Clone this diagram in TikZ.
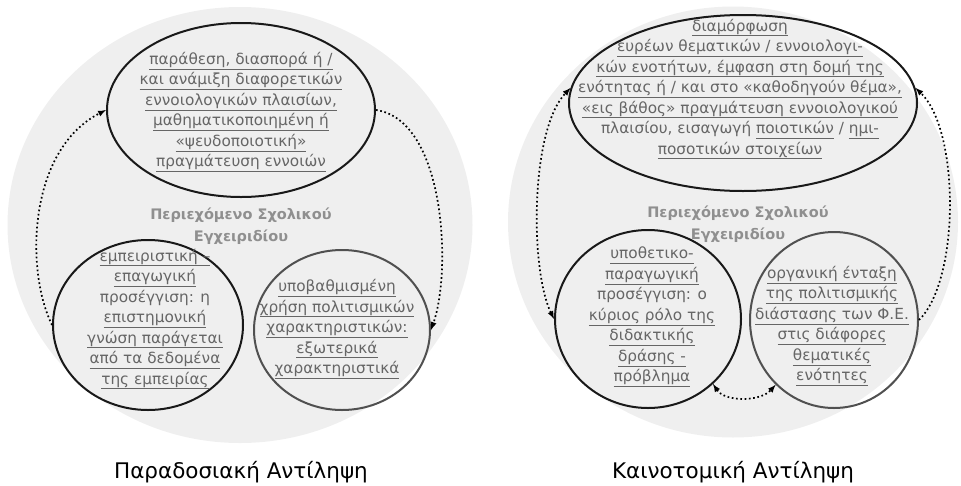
\documentclass[tikz,border=0pt]{standalone}
\usepackage{fontspec}
\setmainfont{DejaVu Sans}
\usetikzlibrary{shapes.geometric}

\definecolor{fond}{HTML}{EFEFEF}
\definecolor{texte}{HTML}{666666}
\definecolor{titre}{HTML}{8F8F8F}
\definecolor{trait}{HTML}{505050}

\newcommand{\souligne}[1]{\underline{#1\vphantom{ρ}}}

\begin{document}
\begin{tikzpicture}[x=1pt, y=-1pt]

	\useasboundingbox (0,0) rectangle (961,485);

	\tikzset{
		zone/.style={ellipse, fill=fond, inner sep=0pt},
		bulle/.style={ellipse, draw=black!90, line width=2pt, inner sep=0pt},
		bulleg/.style={ellipse, draw=trait, line width=2pt, inner sep=0pt},
		txt/.style={align=center, text=texte, font=\fontsize{15.3}{20.5}\selectfont},
		ttl/.style={align=center, text=titre, font=\fontsize{14.5}{22}\bfseries},
		lien/.style={line width=1.7pt, dash pattern=on 1.7pt off 2.6pt},
		legende/.style={font=\fontsize{21.5}{24}\selectfont}
	}

	% ---- Conception traditionnelle ----
	\node[zone, minimum width=465pt, minimum height=436pt] (Lfond) at (240,225) {};
	\node[ttl] (Ltitre) at (241,226) {Περιεχόμενο Σχολικού\\Εγχειριδίου};

	\node[bulle, minimum width=268pt, minimum height=174pt] (Ltop) at (241,110) {};
	\node[bulle, minimum width=190pt, minimum height=170pt] (Lbl) at (148,325) {};
	\node[bulleg, minimum width=176pt, minimum height=160pt] (Lbr) at (342,330) {};

	\node[txt] (Ltop_txt) at (241,112) {%
		\souligne{παράθεση, διασπορά ή /}\\
		\souligne{και ανάμιξη διαφορετικών}\\
		\souligne{εννοιολογικών πλαισίων,}\\
		\souligne{μαθηματικοποιημένη ή}\\
		\souligne{«ψευδοποιοτική»}\\
		\souligne{πραγμάτευση εννοιών}};
	\node[txt] (Lbl_txt) at (155,319) {%
		\souligne{εμπειριστική –}\\
		\souligne{επαγωγική}\\
		προσέγγιση: η\\
		\souligne{επιστημονική}\\
		\souligne{γνώση παράγεται}\\
		\souligne{από τα δεδομένα}\\
		\souligne{της εμπειρίας}};
	\node[txt] (Lbr_txt) at (337,329) {%
		\souligne{υποβαθμισμένη}\\
		\souligne{χρήση πολιτισμικών}\\
		\souligne{χαρακτηριστικών:}\\
		\souligne{εξωτερικά}\\
		\souligne{χαρακτηριστικά}};

	\draw[lien, -latex] (Lbl.west) .. controls (25,270) and (28,150) .. (Ltop.west);
	\draw[lien, -latex] (Ltop.east) .. controls (445,120) and (452,270) .. (Lbr.east);

	\node[legende] (Lleg) at (241,472) {Παραδοσιακή Αντίληψη};

	% ---- Conception innovante ----
	\node[zone, minimum width=450pt, minimum height=431pt] (Rfond) at (733,222) {};
	\node[ttl] (Rtitre) at (738,224) {Περιεχόμενο Σχολικού\\Εγχειριδίου};

	\node[bulle, minimum width=348pt, minimum height=176pt] (Rtop) at (743,103) {};
	\node[bulle, minimum width=186pt, minimum height=178pt] (Rbl) at (648,319) {};
	\node[bulleg, minimum width=168pt, minimum height=176pt] (Rbr) at (834,320) {};

	\node[txt] (Rtop_txt) at (740,89) {%
		\souligne{διαμόρφωση}\\
		\souligne{ευρέων θεματικών / εννοιολογι-}\\
		\souligne{κών ενοτήτων, έμφαση στη δομή της}\\
		\souligne{ενότητας ή / και στο «καθοδηγούν θέμα»,}\\
		\souligne{«εις βάθος» πραγμάτευση εννοιολογικού}\\
		πλαισίου, εισαγωγή \souligne{ποιοτικών} / \souligne{ημι-}\\
		\souligne{ποσοτικών στοιχείων}};
	\node[txt] (Rbl_txt) at (652,317) {%
		\souligne{υποθετικο-}\\
		\souligne{παραγωγική}\\
		προσέγγιση: ο\\
		\souligne{κύριος ρόλο της}\\
		\souligne{διδακτικής}\\
		\souligne{δράσης -}\\
		\souligne{πρόβλημα}};
	\node[txt] (Rbr_txt) at (832,326) {%
		\souligne{οργανική ένταξη}\\
		\souligne{της πολιτισμικής}\\
		\souligne{διάστασης των Φ.Ε.}\\
		\souligne{στις διάφορες}\\
		\souligne{θεματικές}\\
		\souligne{ενότητες}};

	\draw[lien, latex-latex] (Rbl.west) .. controls (530,270) and (530,130) .. (Rtop.175);
	\draw[lien, -latex] (Rbr.east) .. controls (960,280) and (960,130) .. (Rtop.5);
	\draw[lien, latex-latex] (Rbl.315) .. controls (725,402) and (760,402) .. (Rbr.228);

	\node[legende] (Rleg) at (733,472) {Καινοτομική Αντίληψη};

\end{tikzpicture}
\end{document}
